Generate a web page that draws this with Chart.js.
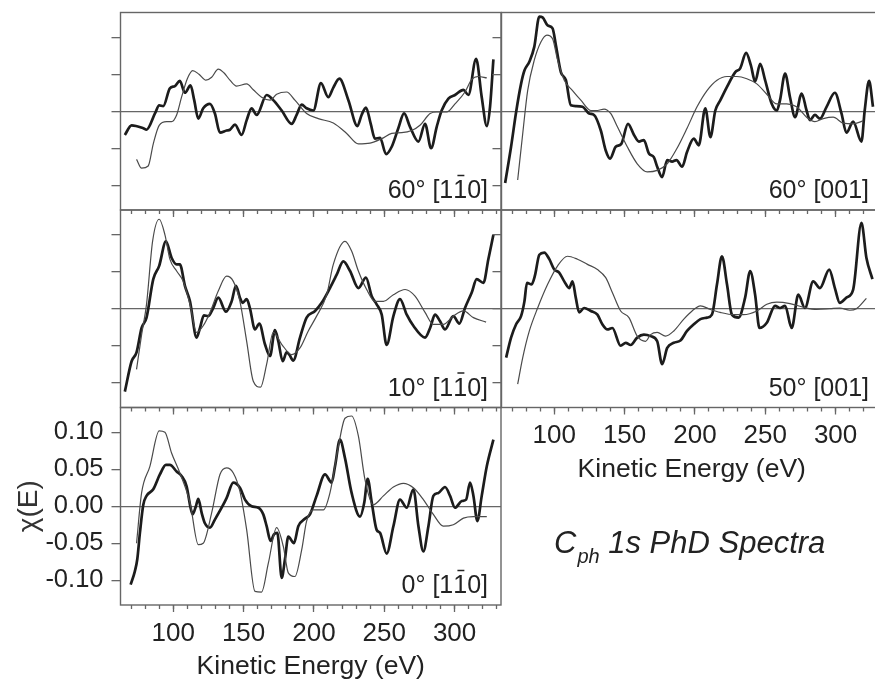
<!DOCTYPE html>
<html>
<head>
<meta charset="utf-8">
<script src="https://cdn.jsdelivr.net/npm/chart.js@4.4.1/dist/chart.umd.min.js"></script>
<style>
  html, body { margin: 0; padding: 0; background: #fff; overflow: hidden; }
  #wrap { position: relative; width: 875px; height: 686px; overflow: hidden; }
  #wrap canvas { position: absolute; left: 0; top: 0; }
</style>
</head>
<body>
<div id="wrap">
  <canvas id="c60_110" width="900" height="686"></canvas>
  <canvas id="c10_110" width="900" height="686"></canvas>
  <canvas id="c0_110" width="900" height="686"></canvas>
  <canvas id="c60_001" width="900" height="686"></canvas>
  <canvas id="c50_001" width="900" height="686"></canvas>
</div>
<script>
// ---- data: kinetic energy (eV) and chi(E), exp = thick, th = thin ----
const p60_110_expE = [65.6,70.4,78.7,81.0,87.0,90.0,92.9,97.6,101.2,104.7,108.3,112.3,114.9,117.8,121.3,126.1,129.6,133.2,137.9,140.3,143.9,148.6,152.2,155.7,159.3,166.4,171.1,177.1,184.2,187.7,191.3,194.8,199.6,205.0,210.2,213.8,218.1,224.5,230.9,233.9,237.0,240.4,243.4,247.0,251.3,255.3,260.0,264.1,268.3,274.3,279.0,283.3,287.3,290.8,295.6,300.3,306.3,309.8,315.3,319.3,322.9,325.2,327.6];
const p60_110_expChi = [-0.032,-0.019,-0.023,-0.025,-0.003,0.008,0.007,0.031,0.034,0.041,0.025,0.035,0.015,-0.010,0.004,0.010,-0.003,-0.029,-0.026,-0.025,-0.018,-0.032,-0.012,0.004,-0.005,0.022,0.015,0.001,-0.017,-0.005,0.009,0.004,0.001,0.038,0.019,0.032,0.044,0.015,-0.020,-0.005,0.005,-0.017,-0.037,-0.036,-0.058,-0.048,-0.023,-0.003,-0.021,-0.041,-0.017,-0.050,-0.021,0.001,0.017,0.022,0.029,0.022,0.071,0.019,-0.020,0.006,0.070];
const p60_110_thE = [73.9,77.5,82.2,85.8,90.0,95.3,98.8,102.4,105.9,110.0,113.8,118.3,123.2,127.3,132.0,136.0,140.3,145.0,152.2,156.9,162.8,168.8,173.5,180.6,186.5,194.8,203.1,213.8,223.3,231.6,239.9,248.2,255.3,262.4,269.5,275.4,282.6,287.3,294.4,300.3,307.4,312.2,316.9,322.9];
const p60_110_thChi = [-0.065,-0.077,-0.074,-0.044,-0.019,-0.014,-0.014,-0.005,0.019,0.044,0.055,0.050,0.042,0.046,0.057,0.052,0.042,0.034,0.037,0.029,0.019,0.015,0.023,0.026,0.015,-0.003,-0.010,-0.016,-0.030,-0.044,-0.043,-0.037,-0.030,-0.029,-0.026,-0.019,-0.003,-0.001,-0.001,0.010,0.026,0.043,0.047,0.045];

const p10_110_expE = [65.6,70.4,73.9,77.5,81.0,85.8,90.0,94.8,98.8,102.4,104.7,108.3,111.9,116.6,119.0,121.8,124.9,128.4,132.0,137.5,141.5,144.6,147.4,149.3,152.2,154.5,158.1,161.2,165.2,168.8,172.3,174.7,177.8,180.6,182.5,185.3,190.1,194.8,200.8,205.5,211.4,216.2,220.9,225.7,231.6,237.0,241.1,244.6,248.2,251.7,256.5,261.2,266.0,270.7,279.0,282.6,286.1,289.7,293.2,299.1,303.4,307.4,312.2,315.7,320.5,324.0,327.6];
const p10_110_expChi = [-0.112,-0.071,-0.059,-0.026,-0.012,0.040,0.058,0.091,0.069,0.060,0.060,0.031,0.010,-0.039,-0.026,-0.009,-0.010,0.001,0.015,-0.004,0.010,0.031,0.015,0.008,0.013,0.001,-0.028,-0.020,-0.048,-0.064,-0.029,-0.044,-0.071,-0.059,-0.062,-0.070,-0.039,-0.012,-0.003,0.008,0.028,0.046,0.064,0.051,0.028,0.042,0.017,0.006,-0.008,-0.049,-0.010,0.013,-0.008,-0.023,-0.039,-0.026,-0.008,-0.017,-0.028,-0.010,-0.020,0.001,0.022,0.040,0.035,0.067,0.100];
const p10_110_thE = [73.9,77.5,81.0,85.3,90.0,94.1,97.6,102.4,107.1,111.9,116.6,121.3,126.1,132.0,137.9,142.7,147.4,152.2,156.9,162.1,166.4,171.1,177.1,184.2,190.1,196.0,201.9,209.1,213.8,222.1,226.8,231.6,237.5,243.4,249.4,256.5,264.8,271.9,279.0,284.9,292.0,299.1,306.3,313.4,322.4];
const p10_110_thChi = [-0.082,-0.035,0.006,0.091,0.121,0.100,0.067,0.051,0.037,0.006,-0.032,-0.023,-0.005,0.024,0.044,0.037,0.010,-0.044,-0.098,-0.106,-0.075,-0.032,-0.048,-0.062,-0.053,-0.030,-0.010,0.019,0.060,0.091,0.078,0.051,0.026,0.010,0.010,0.019,0.026,0.017,-0.005,-0.021,-0.021,-0.010,-0.003,-0.012,-0.018];

const p0_110_expE = [69.7,72.7,74.4,76.3,78.7,81.0,85.8,90.5,94.8,97.6,102.4,105.9,109.5,112.3,113.8,116.1,117.8,120.2,122.5,126.1,129.6,134.4,137.9,142.7,147.4,151.0,155.7,160.5,164.0,166.4,169.2,171.6,174.0,177.1,179.4,181.8,185.8,188.9,193.6,197.2,201.9,207.9,212.6,215.0,218.5,222.1,226.8,232.8,235.8,238.2,241.1,244.6,247.0,251.7,256.5,261.2,266.0,270.7,274.3,277.8,281.4,284.9,288.5,293.2,296.8,300.3,305.1,308.2,311.0,313.4,316.2,319.3,322.9,327.6];
const p0_110_expChi = [-0.106,-0.088,-0.072,-0.036,0.002,0.014,0.023,0.043,0.056,0.056,0.047,0.041,0.027,-0.002,-0.011,0.000,0.010,-0.009,-0.023,-0.029,-0.018,-0.002,0.011,0.032,0.025,0.009,0.000,-0.002,-0.011,-0.027,-0.047,-0.038,-0.036,-0.097,-0.072,-0.041,-0.050,-0.027,-0.017,-0.011,0.014,0.043,0.032,0.054,0.090,0.065,0.018,-0.014,0.005,0.037,0.005,-0.032,-0.036,-0.064,-0.027,0.009,-0.002,0.023,-0.027,-0.061,-0.027,0.014,0.018,0.026,0.014,-0.002,0.007,0.009,0.032,0.014,-0.020,0.014,0.054,0.090];
const p0_110_thE = [73.9,77.5,83.4,90.0,94.1,98.8,104.7,111.9,117.8,121.3,127.3,133.2,137.9,142.7,147.4,152.2,158.1,162.8,167.6,173.5,178.2,181.8,186.5,191.3,194.8,199.6,206.7,211.4,217.4,222.1,226.8,231.6,236.3,242.2,249.4,256.5,263.6,270.7,277.8,284.9,292.0,299.1,306.3,313.4,322.9];
const p0_110_thChi = [-0.050,0.018,0.054,0.102,0.100,0.072,0.045,0.005,-0.052,-0.050,-0.009,0.043,0.052,0.045,0.020,-0.032,-0.115,-0.116,-0.077,-0.029,-0.054,-0.090,-0.095,-0.059,-0.020,-0.005,-0.005,0.018,0.081,0.119,0.122,0.095,0.036,0.002,0.014,0.026,0.031,0.025,0.009,-0.011,-0.027,-0.025,-0.016,-0.014,-0.014];

const p60_001_expE = [65.1,69.3,72.9,76.4,78.8,82.3,85.8,89.4,91.7,95.3,98.8,101.2,104.7,108.3,111.8,115.3,120.1,124.8,128.3,133.1,136.6,139.7,143.7,147.7,152.4,156.7,160.2,163.7,167.3,170.8,173.2,176.7,180.3,183.8,186.9,190.9,194.4,199.2,202.7,207.4,211.0,214.5,218.1,222.8,228.7,232.2,236.4,239.8,242.8,246.4,249.9,254.6,258.2,260.5,264.1,267.6,271.2,275.9,279.4,281.8,285.3,288.9,293.6,299.5,304.2,307.7,312.5,318.4,320.7,323.8,326.6];
const p60_001_expChi = [-0.097,-0.048,-0.001,0.037,0.055,0.067,0.087,0.128,0.127,0.116,0.112,0.089,0.053,0.042,0.008,0.007,0.006,-0.003,-0.005,-0.026,-0.053,-0.064,-0.048,-0.044,-0.017,-0.032,-0.041,-0.039,-0.057,-0.062,-0.075,-0.089,-0.066,-0.068,-0.066,-0.075,-0.055,-0.037,-0.046,0.004,-0.035,0.001,0.015,0.033,0.053,0.058,0.079,0.062,0.040,0.064,0.042,0.010,0.001,0.015,0.051,0.019,-0.008,0.024,0.001,-0.012,-0.005,-0.010,0.006,0.025,-0.003,-0.029,-0.014,-0.041,0.001,0.041,0.006];
const p60_001_thE = [74.0,77.6,81.1,85.8,90.6,94.8,98.8,102.4,107.1,113.0,118.9,126.0,130.7,135.4,140.1,144.9,151.9,159.0,166.1,173.2,180.3,187.3,194.4,201.5,208.6,215.7,222.8,229.8,236.9,244.0,251.1,258.2,265.2,272.3,279.4,285.3,291.2,298.3,305.4,312.5,319.5];
const p60_001_thChi = [-0.093,-0.030,0.028,0.069,0.094,0.103,0.098,0.069,0.042,0.028,0.015,0.001,0.001,0.003,-0.003,-0.021,-0.048,-0.071,-0.082,-0.080,-0.071,-0.050,-0.023,0.006,0.028,0.042,0.047,0.047,0.044,0.037,0.023,0.010,0.010,0.006,-0.008,-0.014,-0.010,-0.008,-0.016,-0.017,-0.013];

const p50_001_expE = [65.8,69.3,72.9,76.4,78.8,80.6,83.9,86.3,89.4,92.9,96.5,100.0,103.5,107.1,110.6,113.0,115.3,117.7,121.2,126.0,130.7,134.2,137.8,141.3,147.2,150.8,154.3,159.0,163.7,168.5,173.2,176.7,180.3,185.0,189.7,194.4,199.2,203.9,208.6,212.1,215.7,219.2,222.8,226.3,231.0,235.7,239.3,242.8,245.9,251.1,257.0,260.5,264.1,268.8,273.5,278.2,284.1,288.9,295.5,299.5,303.0,307.7,312.5,318.4,321.9,326.2];
const p50_001_expChi = [-0.066,-0.039,-0.021,-0.010,0.010,0.035,0.033,0.045,0.073,0.076,0.067,0.053,0.049,0.037,0.028,0.037,0.015,-0.005,0.001,-0.003,-0.008,-0.021,-0.028,-0.026,-0.050,-0.046,-0.049,-0.039,-0.035,-0.037,-0.044,-0.075,-0.053,-0.046,-0.043,-0.030,-0.021,-0.014,-0.012,-0.008,0.033,0.071,0.033,-0.008,-0.012,0.015,0.051,0.019,-0.026,-0.019,0.004,0.001,0.004,-0.026,0.019,0.001,0.037,0.028,0.053,0.028,0.008,0.015,0.026,0.116,0.069,0.040];
const p50_001_thE = [74.0,77.6,82.3,88.2,95.3,102.4,109.4,116.5,123.6,130.7,136.6,141.3,147.2,153.1,159.0,164.9,168.5,173.2,179.1,185.0,192.1,198.0,203.9,211.0,218.0,227.5,234.6,244.0,251.1,258.2,267.6,277.1,286.5,295.9,303.0,310.1,314.8,321.9];
const p50_001_thChi = [-0.102,-0.066,-0.030,0.001,0.033,0.058,0.071,0.067,0.060,0.053,0.042,0.022,-0.003,-0.012,-0.037,-0.044,-0.035,-0.032,-0.037,-0.030,-0.014,-0.003,0.004,-0.001,-0.005,-0.008,-0.008,-0.003,0.006,0.009,0.007,0.002,-0.001,0.000,0.001,-0.002,0.000,0.014];

const yTicks = [-0.10, -0.05, 0.00, 0.05, 0.10];
const xTickLabels = [100, 150, 200, 250, 300];

// ---- layout ----
const W = 900, H = 686;
const xRange = [62.5, 333];
const yRange = [-0.1335, 0.1335];
const colX = { left: [120.5, 501], right: [501.5, 882] };
const rowY = [[12.5, 210], [210, 407.5], [407.5, 605]];
const ink = '#222';
const frameColor = '#666';

Chart.defaults.font.family = "'Liberation Sans', Arial, Helvetica, sans-serif";
Chart.defaults.color = ink;

const framePlugin = {
  id: 'frame',
  afterDraw(chart) {
    const { ctx, chartArea: a } = chart;
    ctx.save();
    ctx.strokeStyle = frameColor;
    ctx.lineWidth = 1.4;
    ctx.strokeRect(a.left, a.top, a.right - a.left, a.bottom - a.top);
    ctx.restore();
  }
};

const panelLabel = {
  id: 'panelLabel',
  afterDraw(chart, args, opts) {
    if (!opts.parts) return;
    const { ctx, chartArea: a } = chart;
    ctx.save();
    ctx.font = "25px 'Liberation Sans', Arial, sans-serif";
    ctx.fillStyle = ink;
    ctx.textBaseline = 'alphabetic';
    const widths = opts.parts.map(p => ctx.measureText(p.t).width);
    let x = a.right - opts.dx - widths.reduce((s, w) => s + w, 0);
    const y = a.bottom - opts.dy;
    opts.parts.forEach((p, i) => {
      ctx.fillText(p.t, x, y);
      if (p.bar) {
        ctx.strokeStyle = ink;
        ctx.lineWidth = 1.5;
        ctx.beginPath();
        ctx.moveTo(x + widths[i] * 0.3, y - 22.5);
        ctx.lineTo(x + widths[i] * 0.8, y - 22.5);
        ctx.stroke();
      }
      x += widths[i];
    });
    ctx.restore();
  }
};

const caption = {
  id: 'caption',
  afterDraw(chart, args, opts) {
    if (!opts.show) return;
    const ctx = chart.ctx;
    ctx.save();
    ctx.fillStyle = ink;
    ctx.textBaseline = 'alphabetic';
    ctx.font = "italic 31px 'Liberation Sans', Arial, sans-serif";
    let x = 554;
    ctx.fillText('C', x, 553);
    x += ctx.measureText('C').width + 1;
    ctx.font = "italic 20px 'Liberation Sans', Arial, sans-serif";
    ctx.fillText('ph', x, 563);
    x += ctx.measureText('ph').width;
    ctx.font = "italic 31px 'Liberation Sans', Arial, sans-serif";
    ctx.fillText(' 1s PhD Spectra', x, 553);
    ctx.restore();
  }
};

Chart.register(framePlugin, panelLabel, caption);

function overlined(angle) {
  return [{ t: angle + ' [1' }, { t: '1', bar: true }, { t: '0]' }];
}

function makePanel(id, col, row, expE, expChi, thE, thChi, label, showX, showY, showCaption) {
  const [left, right] = colX[col];
  const [top, bottom] = rowY[row];
  const yW = showY ? left : 10;
  const xH = showX ? 81 : 10;
  const toPts = (es, vs) => es.map((e, i) => ({ x: e, y: vs[i] }));

  new Chart(document.getElementById(id), {
    type: 'line',
    data: {
      datasets: [
        { data: toPts(thE, thChi), borderColor: '#4a4a4a', borderWidth: 1.2, pointRadius: 0,
          cubicInterpolationMode: 'monotone', xAxisID: 'x', yAxisID: 'y' },
        { data: toPts(expE, expChi), borderColor: '#1c1c1c', borderWidth: 2.7, pointRadius: 0,
          cubicInterpolationMode: 'monotone', xAxisID: 'x', yAxisID: 'y' }
      ]
    },
    options: {
      responsive: false,
      animation: false,
      events: [],
      layout: { padding: { left: left - yW, right: W - right, top: top, bottom: H - bottom - xH } },
      plugins: {
        legend: { display: false },
        tooltip: { enabled: false },
        panelLabel: { parts: label, dx: 13, dy: 12 },
        caption: { show: showCaption }
      },
      scales: {
        xMajor: {
          type: 'linear', position: 'bottom', min: xRange[0], max: xRange[1], weight: 0,
          ticks: { display: false, stepSize: 50, includeBounds: false },
          grid: { drawOnChartArea: false, tickLength: 7, tickColor: frameColor, tickWidth: 1.3 },
          border: { display: false },
          afterFit: s => { s.height = 0; }
        },
        x: {
          type: 'linear', position: 'bottom', min: xRange[0], max: xRange[1], weight: 1,
          ticks: {
            display: showX, stepSize: 10, includeBounds: false, autoSkip: false, maxRotation: 0,
            padding: 9, font: { size: 26 }, color: ink,
            callback: v => xTickLabels.includes(v) ? String(v) : ''
          },
          grid: { drawOnChartArea: false, tickLength: 4, tickColor: frameColor, tickWidth: 1.3 },
          border: { display: false },
          title: { display: showX, text: 'Kinetic Energy (eV)', font: { size: 26.5 }, color: ink,
                   padding: { top: 0, bottom: 3 } },
          afterFit: s => { s.height = xH; }
        },
        y: {
          type: 'linear', position: 'left', min: yRange[0], max: yRange[1],
          afterBuildTicks: s => { s.ticks = yTicks.map(v => ({ value: v })); },
          ticks: { display: showY, padding: 8, font: { size: 25.5 }, color: ink,
                   callback: v => v.toFixed(2) },
          grid: {
            color: c => (c.tick && c.tick.value === 0) ? '#666' : 'rgba(0,0,0,0)',
            lineWidth: 1.3, tickLength: 9, tickColor: frameColor, tickWidth: 1.3
          },
          border: { display: false },
          title: { display: showY, text: 'χ(E)', font: { size: 28 }, color: '#333',
                   padding: { top: 12, bottom: 0 } },
          afterFit: s => { s.width = yW; }
        }
      }
    }
  });
}

makePanel('c60_110', 'left', 0, p60_110_expE, p60_110_expChi, p60_110_thE, p60_110_thChi, overlined('60°'), false, false, false);
makePanel('c10_110', 'left', 1, p10_110_expE, p10_110_expChi, p10_110_thE, p10_110_thChi, overlined('10°'), false, false, false);
makePanel('c0_110', 'left', 2, p0_110_expE, p0_110_expChi, p0_110_thE, p0_110_thChi, overlined('0°'), true, true, true);
makePanel('c60_001', 'right', 0, p60_001_expE, p60_001_expChi, p60_001_thE, p60_001_thChi, [{ t: '60° [001]' }], false, false, false);
makePanel('c50_001', 'right', 1, p50_001_expE, p50_001_expChi, p50_001_thE, p50_001_thChi, [{ t: '50° [001]' }], true, false, false);
</script>
</body>
</html>
